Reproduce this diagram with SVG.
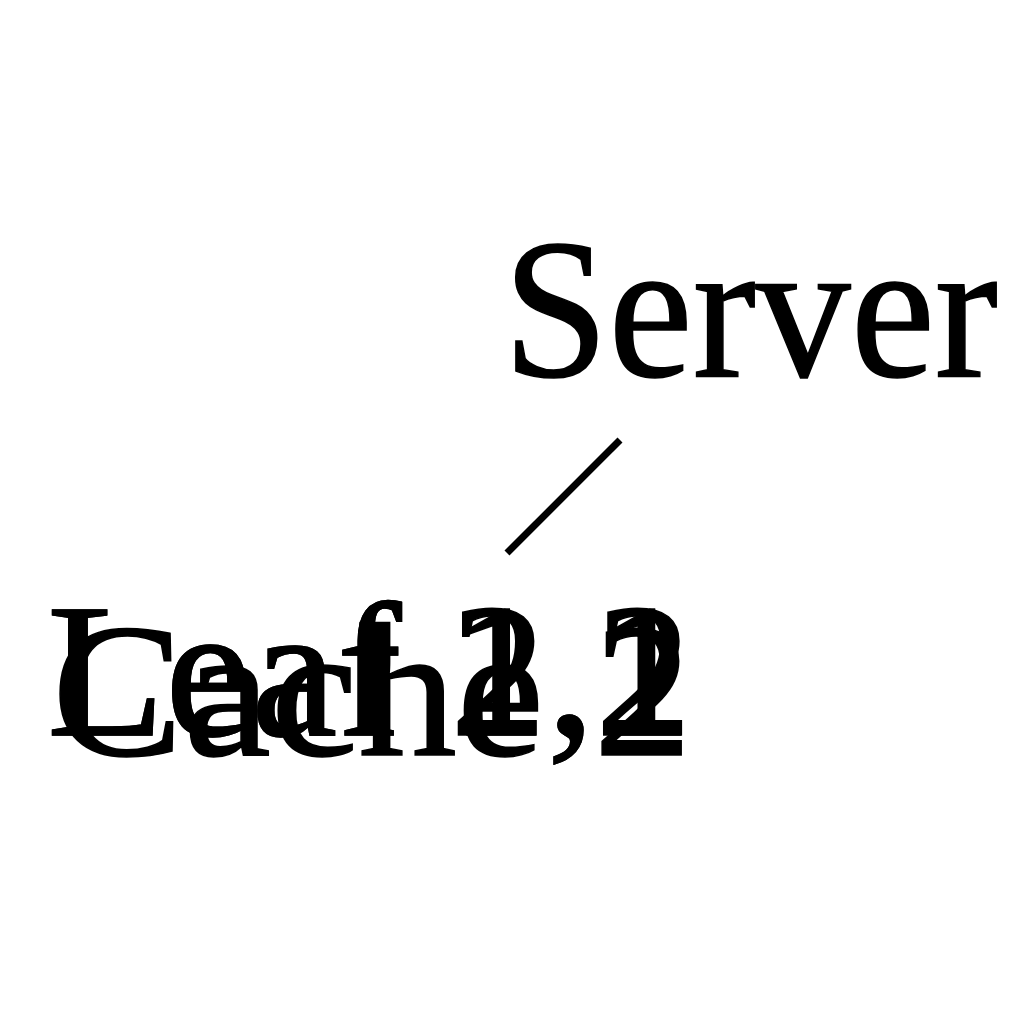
<svg xmlns="http://www.w3.org/2000/svg" width="1024" height="1024" viewBox="0 0 1024 1024">
  <style>
    .label { font-family: "Liberation Serif", "DejaVu Serif", serif; font-size: 190px; fill: #000; stroke: #000; stroke-width: 1.5; }
    .edge { stroke: #000; stroke-width: 7; fill: none; }
  </style>
  <rect width="1024" height="1024" fill="#fff"/>
  <g id="connectors">
    <line class="edge" x1="620" y1="440" x2="507" y2="553"/>
  </g>
  <g id="server">
    <text class="label" x="503" y="376" style="font-size:200px" textLength="495" lengthAdjust="spacingAndGlyphs">Server</text>
  </g>
  <g id="cache-2">
    <text class="label" x="52" y="755" textLength="640" lengthAdjust="spacingAndGlyphs">Cache 2</text>
  </g>
  <g id="leaf-1-2">
    <text class="label" x="47" y="735" textLength="645" lengthAdjust="spacingAndGlyphs">Leaf 1,2</text>
  </g>
  <g id="leaf-2-1">
    <text class="label" x="47" y="735" textLength="645" lengthAdjust="spacingAndGlyphs">Leaf 2,1</text>
  </g>
</svg>
